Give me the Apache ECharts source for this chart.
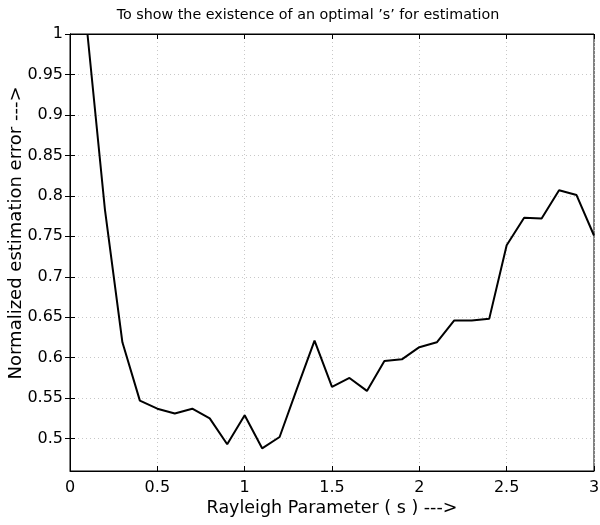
<!DOCTYPE html>
<html>
<head>
<meta charset="utf-8">
<script src="https://cdn.jsdelivr.net/npm/echarts@6/dist/echarts.min.js"></script>
<style>
  html, body { margin: 0; padding: 0; background: #fff; }
  #chart { width: 600px; height: 525px; }
</style>
</head>
<body>
<div id="chart"></div>
<script>
  // Rayleigh parameter s and normalized estimation error
  const sValues = [0.1, 0.2, 0.3, 0.4, 0.5, 0.6, 0.7, 0.8, 0.9, 1.0,
                   1.1, 1.2, 1.3, 1.4, 1.5, 1.6, 1.7, 1.8, 1.9, 2.0,
                   2.1, 2.2, 2.3, 2.4, 2.5, 2.6, 2.7, 2.8, 2.9, 3.0];
  const errValues = [1.0, 0.783, 0.619, 0.547, 0.537, 0.531, 0.537, 0.525, 0.493, 0.529,
                     0.488, 0.502, 0.562, 0.621, 0.564, 0.575, 0.559, 0.596, 0.598, 0.613,
                     0.619, 0.646, 0.646, 0.648, 0.739, 0.773, 0.772, 0.807, 0.801, 0.751];
  const yTicks = [0.5, 0.55, 0.6, 0.65, 0.7, 0.75, 0.8, 0.85, 0.9, 0.95, 1];

  const font = 'DejaVu Sans, Arial, sans-serif';
  const chart = echarts.init(document.getElementById('chart'));

  const gridLine = { show: true, lineStyle: { color: '#c8c8c8', type: [1, 3], width: 1 } };

  chart.setOption({
    animation: false,
    title: {
      text: 'To show the existence of an optimal ’s’ for estimation',
      left: 303, top: 3, textAlign: 'center',
      textStyle: { fontFamily: font, fontSize: 14.3, fontWeight: 'normal', color: '#000' }
    },
    grid: {
      left: 70, right: 6, top: 34, bottom: 54, outerBoundsMode: 'none', containLabel: false,
      show: true, borderColor: '#000', borderWidth: 1
    },
    xAxis: [{
      type: 'value', min: 0, max: 3, interval: 0.5,
      name: 'Rayleigh Parameter ( s ) --->', nameLocation: 'middle', nameGap: 28,
      nameMoveOverlap: false,
      nameTextStyle: { fontFamily: font, fontSize: 17.5, color: '#000' },
      axisLine: { show: true, onZero: false, lineStyle: { color: '#000' } },
      axisTick: { show: true, inside: true, length: 5, lineStyle: { color: '#000' } },
      axisLabel: { fontFamily: font, fontSize: 16, color: '#000', margin: 9 },
      splitLine: gridLine
    }, {
      type: 'value', min: 0, max: 3, interval: 0.5, position: 'top',
      axisLine: { show: true, lineStyle: { color: '#000' } },
      axisTick: { show: true, inside: true, length: 5, lineStyle: { color: '#000' } },
      axisLabel: { show: false },
      splitLine: { show: false }
    }],
    yAxis: [{
      type: 'value', min: 0.46, max: 1,
      name: 'Normalized estimation error --->', nameLocation: 'middle', nameGap: 45,
      nameMoveOverlap: false,
      nameTextStyle: { fontFamily: font, fontSize: 18, color: '#000', padding: [0, 0, 0, 39] },
      axisLine: { show: true, onZero: false, lineStyle: { color: '#000' } },
      axisTick: { show: true, inside: true, length: 5, customValues: yTicks, lineStyle: { color: '#000' } },
      axisLabel: { fontFamily: font, fontSize: 16, color: '#000', margin: 7, customValues: yTicks },
      splitLine: gridLine
    }, {
      type: 'value', min: 0.46, max: 1, position: 'right',
      axisLine: { show: true, lineStyle: { color: '#000' } },
      axisTick: { show: true, inside: true, length: 5, customValues: yTicks, lineStyle: { color: '#000' } },
      axisLabel: { show: false, customValues: yTicks },
      splitLine: { show: false }
    }],
    series: [{
      type: 'line',
      data: sValues.map((s, i) => [s, errValues[i]]),
      showSymbol: false,
      clip: true,
      lineStyle: { color: '#000', width: 2 }
    }]
  });
</script>
</body>
</html>
